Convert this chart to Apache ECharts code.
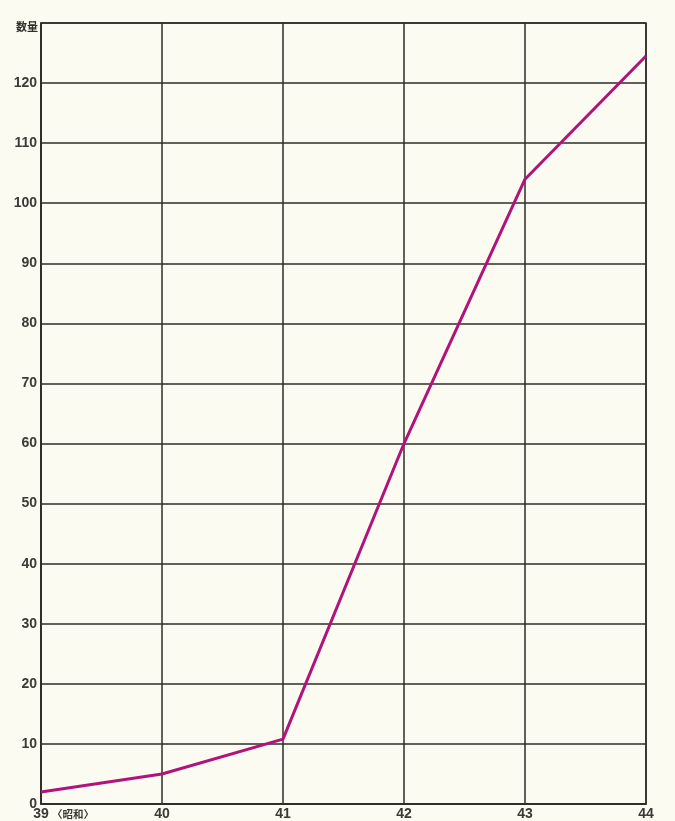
<!DOCTYPE html>
<html><head><meta charset="utf-8">
<script src="https://cdn.jsdelivr.net/npm/echarts@6/dist/echarts.min.js"></script>
<style>html,body{margin:0;padding:0;background:#fbfbf1;}#c{width:675px;height:821px;}</style>
</head><body><div id="c"></div>
<script>
const categories = ['39', '40', '41', '42', '43', '44'];
const values = [2, 5, 10.8, 60, 104, 124.5];
const yTicks = [0, 10, 20, 30, 40, 50, 60, 70, 80, 90, 100, 110, 120];
const yName = '数量';
const eraNote = '〈昭和〉';

const chart = echarts.init(document.getElementById('c'));
const lineC = '#2e2e28';
chart.setOption({
  backgroundColor: '#fbfbf1',
  animation: false,
  grid: {left: 41, right: 29, top: 23, bottom: 14, show: true, borderColor: lineC, borderWidth: 1.5},
  xAxis: {
    type: 'category', data: categories, boundaryGap: false,
    axisLine: {lineStyle: {color: lineC, width: 1.5}},
    axisTick: {show: false},
    splitLine: {show: true, lineStyle: {color: lineC, width: 1.5}},
    axisLabel: {color: '#3a3a36', fontSize: 14, fontWeight: 'bold', fontFamily: 'Liberation Sans', margin: 3, showMaxLabel: true, showMinLabel: true}
  },
  yAxis: {
    type: 'value', min: 0, max: 130, interval: 10,
    axisLine: {show: true, lineStyle: {color: lineC, width: 1.5}},
    axisTick: {show: false},
    splitLine: {show: true, lineStyle: {color: lineC, width: 1.5}},
    axisLabel: {color: '#3a3a36', fontSize: 14, fontWeight: 'bold', fontFamily: 'Liberation Sans', margin: 4,
      formatter: v => yTicks.includes(v) ? String(v) : ''}
  },
  graphic: [
    {type: 'text', left: 16, top: 21, style: {text: yName, fill: '#2e2e2a', font: 'bold 11px "Noto Sans CJK JP"'}},
    {type: 'text', left: 52, top: 809, style: {text: eraNote, fill: '#3a3a36', font: 'bold 10.5px "Noto Sans CJK JP"'}}
  ],
  series: [{
    type: 'line', data: values, symbol: 'none',
    lineStyle: {color: '#b2137a', width: 3}
  }]
});
</script></body></html>
